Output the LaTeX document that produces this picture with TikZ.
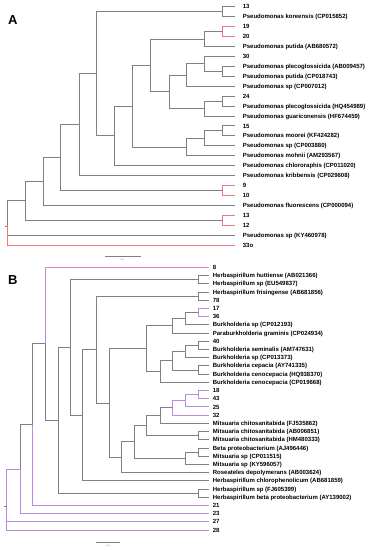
\documentclass[tikz,border=0pt]{standalone}
\usepackage{fontspec}
\setmainfont{Liberation Sans}
\definecolor{gl}{HTML}{808080}
\definecolor{rl}{HTML}{F07878}
\definecolor{vl}{HTML}{B98AE2}
\definecolor{pl}{HTML}{F07CC4}
\begin{document}
\begin{tikzpicture}[x=1pt,y=-1pt]
\tikzset{
  br/.style={draw=gl, line width=0.85pt},
  brr/.style={draw=rl, line width=0.85pt},
  brv/.style={draw=vl, line width=0.85pt},
  brp/.style={draw=pl, line width=0.85pt},
  lab/.style={anchor=west, inner sep=0pt, font=\bfseries\fontsize{6}{6}\selectfont, text height=4.3pt, text depth=0pt},
  panel/.style={inner sep=0pt, font=\bfseries\fontsize{13}{13}\selectfont},
  sbar/.style={draw=gl, line width=0.8pt},
  stxt/.style={inner sep=0pt, text=gl, font=\fontsize{2}{2}\selectfont}
}
\path[use as bounding box] (0,0) rectangle (370,550);
\fill[white] (0,0) rectangle (370,550);

% ---------------- Tree A ----------------
\node[panel] (pA) at (12.7,20) {A};
\foreach \t [count=\i] in {13,Pseudomonas koreensis (CP015852),19,20,Pseudomonas putida (AB680572),30,Pseudomonas plecoglossicida (AB009457),Pseudomonas putida (CP018743),Pseudomonas sp (CP007012),24,Pseudomonas plecoglossicida (HQ454989),Pseudomonas guariconensis (HF674459),15,Pseudomonas moorei (KF424282),Pseudomonas sp (CP003880),Pseudomonas mohnii (AM293567),Pseudomonas chlororaphis (CP011020),Pseudomonas kribbensis (CP029608),9,10,Pseudomonas fluorescens (CP000094),13,12,Pseudomonas sp (KY460978),33o}{
  \pgfmathsetmacro\yy{6.7+(\i-1)*9.93}
  \coordinate (a\i) at (235,\yy);
  \node[lab] (ta\i) at (242.7,\yy) {\t};
}
\coordinate (n1) at (222.7,11.67);
\coordinate (n2) at (222.7,31.53);
\coordinate (n3) at (204,38.97);
\coordinate (n4) at (222.7,71.25);
\coordinate (n5) at (204,63.8);
\coordinate (n6) at (186.7,74.97);
\coordinate (n7) at (222.7,101.03);
\coordinate (n8) at (204,108.48);
\coordinate (n9) at (169,91.73);
\coordinate (n10) at (150.7,65.35);
\coordinate (n11) at (222.7,130.83);
\coordinate (n12) at (204,138.27);
\coordinate (n13) at (186.7,146.96);
\coordinate (n14) at (132.7,106.16);
\coordinate (n15) at (114.3,135.87);
\coordinate (n16) at (96.7,73.77);
\coordinate (n17) at (79,124.64);
\coordinate (n18) at (222.7,190.4);
\coordinate (n19) at (60.7,157.52);
\coordinate (n20) at (43.3,181.41);
\coordinate (n21) at (222.7,220.2);
\coordinate (n22) at (25,200.8);
\coordinate (rA) at (7.3,226);

\draw[br] (n1) |- (a1); \draw[br] (n1) |- (a2);
\draw[brr] (n2) |- (a3); \draw[brr] (n2) |- (a4);
\draw[br] (n3) |- (n2); \draw[br] (n3) |- (a5);
\draw[br] (n4) |- (a7); \draw[br] (n4) |- (a8);
\draw[br] (n5) |- (a6); \draw[br] (n5) |- (n4);
\draw[br] (n6) |- (n5); \draw[br] (n6) |- (a9);
\draw[br] (n7) |- (a10); \draw[br] (n7) |- (a11);
\draw[br] (n8) |- (n7); \draw[br] (n8) |- (a12);
\draw[br] (n9) |- (n6); \draw[br] (n9) |- (n8);
\draw[br] (n10) |- (n3); \draw[br] (n10) |- (n9);
\draw[br] (n11) |- (a13); \draw[br] (n11) |- (a14);
\draw[br] (n12) |- (n11); \draw[br] (n12) |- (a15);
\draw[br] (n13) |- (n12); \draw[br] (n13) |- (a16);
\draw[br] (n14) |- (n10); \draw[br] (n14) |- (n13);
\draw[br] (n15) |- (n14); \draw[br] (n15) |- (a17);
\draw[br] (n16) |- (n1); \draw[br] (n16) |- (n15);
\draw[br] (n17) |- (n16); \draw[br] (n17) |- (a18);
\draw[brr] (n18) |- (a19); \draw[brr] (n18) |- (a20);
\draw[br] (n19) |- (n17); \draw[br] (n19) |- (n18);
\draw[br] (n20) |- (n19); \draw[br] (n20) |- (a21);
\draw[brr] (n21) |- (a22); \draw[brr] (n21) |- (a23);
\draw[br] (n22) |- (n20); \draw[br] (n22) |- (n21);
\draw[br] (rA) |- (n22); \draw[br] (rA) |- (a24);
\draw[brr] (rA) |- (a25);
\draw[br] (rA) -- ++(-2.3,0);

% scale bar A
\coordinate (sA1) at (105,256.7);
\coordinate (sA2) at (140.7,256.7);
\draw[sbar] (sA1) -- (sA2);
\node[stxt] (sAt) at (122.5,260.3) {0.01};

% ---------------- Tree B ----------------
\node[panel] (pB) at (12.7,280) {B};
\foreach \t [count=\i] in {8,Herbaspirillum huttiense (AB021366),Herbaspirillum sp (EU549837),Herbaspirillum frisingense (AB681856),78,17,36,Burkholderia sp (CP012193),Paraburkholderia graminis (CP024934),40,Burkholderia seminalis (AM747631),Burkholderia sp (CP013373),Burkholderia cepacia (AY741335),Burkholderia cenocepacia (HQ938370),Burkholderia cenocepacia (CP019668),18,43,25,32,Mitsuaria chitosanitabida (FJ535862),Mitsuaria chitosanitabida (AB006851),Mitsuaria chitosanitabida (HM480333),Beta proteobacterium (AJ496446),Mitsuaria sp (CP011515),Mitsuaria sp (KY596057),Roseateles depolymerans (AB003624),Herbaspirillum chlorophenolicum (AB681859),Herbaspirillum sp (FJ605399),Herbaspirillum beta proteobacterium (AY139002),21,23,27,28}{
  \pgfmathsetmacro\yy{267.3+(\i-1)*8.21}
  \coordinate (b\i) at (209.3,\yy);
  \node[lab] (tb\i) at (212.7,\yy) {\t};
}
\coordinate (m1) at (198.3,279.62);
\coordinate (m2) at (198.3,296.04);
\coordinate (m3) at (198.3,312.46);
\coordinate (m4) at (185.7,318.6);
\coordinate (m5) at (172.3,325.8);
\coordinate (m6) at (198.3,345.3);
\coordinate (m7) at (185.7,351.45);
\coordinate (m8) at (198.3,369.93);
\coordinate (m9) at (172.3,360.69);
\coordinate (m10) at (160,371.47);
\coordinate (m11) at (146.7,348.63);
\coordinate (m12) at (198.3,394.56);
\coordinate (m13) at (185.7,400.71);
\coordinate (m14) at (172.3,407.9);
\coordinate (m15) at (160,415.6);
\coordinate (m16) at (198.3,435.6);
\coordinate (m17) at (146.7,425.6);
\coordinate (m18) at (198.3,452.03);
\coordinate (m19) at (185.7,458.18);
\coordinate (m20) at (134.3,441.89);
\coordinate (m21) at (121.7,457.22);
\coordinate (m22) at (109.3,402.93);
\coordinate (m23) at (96.7,349.48);
\coordinate (m24) at (82.7,415.12);
\coordinate (m25) at (70.7,347.37);
\coordinate (m26) at (198.3,493.08);
\coordinate (m27) at (58.3,420.22);
\coordinate (m28) at (45,343.76);
\coordinate (m29) at (32.3,424.58);
\coordinate (m30) at (20,469.09);
\coordinate (rB) at (6.7,506.7);

\draw[br] (m1) |- (b2); \draw[br] (m1) |- (b3);
\draw[br] (m2) |- (b4); \draw[br] (m2) |- (b5);
\draw[brv] (m3) |- (b6); \draw[brv] (m3) |- (b7);
\draw[br] (m4) |- (m3); \draw[br] (m4) |- (b8);
\draw[br] (m5) |- (m4); \draw[br] (m5) |- (b9);
\draw[br] (m6) |- (b10); \draw[br] (m6) |- (b11);
\draw[br] (m7) |- (m6); \draw[br] (m7) |- (b12);
\draw[br] (m8) |- (b13); \draw[br] (m8) |- (b14);
\draw[br] (m9) |- (m7); \draw[br] (m9) |- (m8);
\draw[br] (m10) |- (m9); \draw[br] (m10) |- (b15);
\draw[br] (m11) |- (m5); \draw[br] (m11) |- (m10);
\draw[brv] (m12) |- (b16); \draw[brv] (m12) |- (b17);
\draw[brv] (m13) |- (m12); \draw[brv] (m13) |- (b18);
\draw[brv] (m14) |- (m13); \draw[brv] (m14) |- (b19);
\draw[br] (m15) |- (m14); \draw[br] (m15) |- (b20);
\draw[br] (m16) |- (b21); \draw[br] (m16) |- (b22);
\draw[br] (m17) |- (m15); \draw[br] (m17) |- (m16);
\draw[br] (m18) |- (b23); \draw[br] (m18) |- (b24);
\draw[br] (m19) |- (m18); \draw[br] (m19) |- (b25);
\draw[br] (m20) |- (m17); \draw[br] (m20) |- (m19);
\draw[br] (m21) |- (m20); \draw[br] (m21) |- (b26);
\draw[br] (m22) |- (m11); \draw[br] (m22) |- (m21);
\draw[br] (m23) |- (m2); \draw[br] (m23) |- (m22);
\draw[br] (m24) |- (m23); \draw[br] (m24) |- (b27);
\draw[br] (m25) |- (m1); \draw[br] (m25) |- (m24);
\draw[br] (m26) |- (b28); \draw[br] (m26) |- (b29);
\draw[br] (m27) |- (m25); \draw[br] (m27) |- (m26);
\draw[br] (m28) |- (m27);
\draw[brv] (m28) -- (m28 |- b1);
\draw[brp] (m28 |- b1) -- (b1);
\draw[br] (m29) |- (m28); \draw[brv] (m29) |- (b30);
\draw[br] (m30) |- (m29); \draw[brv] (m30) |- (b31);
\draw[brv] (rB) |- (m30); \draw[brv] (rB) |- (b32); \draw[brv] (rB) |- (b33);
\draw[br] (rB) -- ++(-2.3,0);

% scale bar B
\coordinate (sB1) at (95.7,542.7);
\coordinate (sB2) at (120,542.7);
\draw[sbar] (sB1) -- (sB2);
\node[stxt] (sBt) at (107.8,545.8) {0.01};
\end{tikzpicture}
\end{document}
